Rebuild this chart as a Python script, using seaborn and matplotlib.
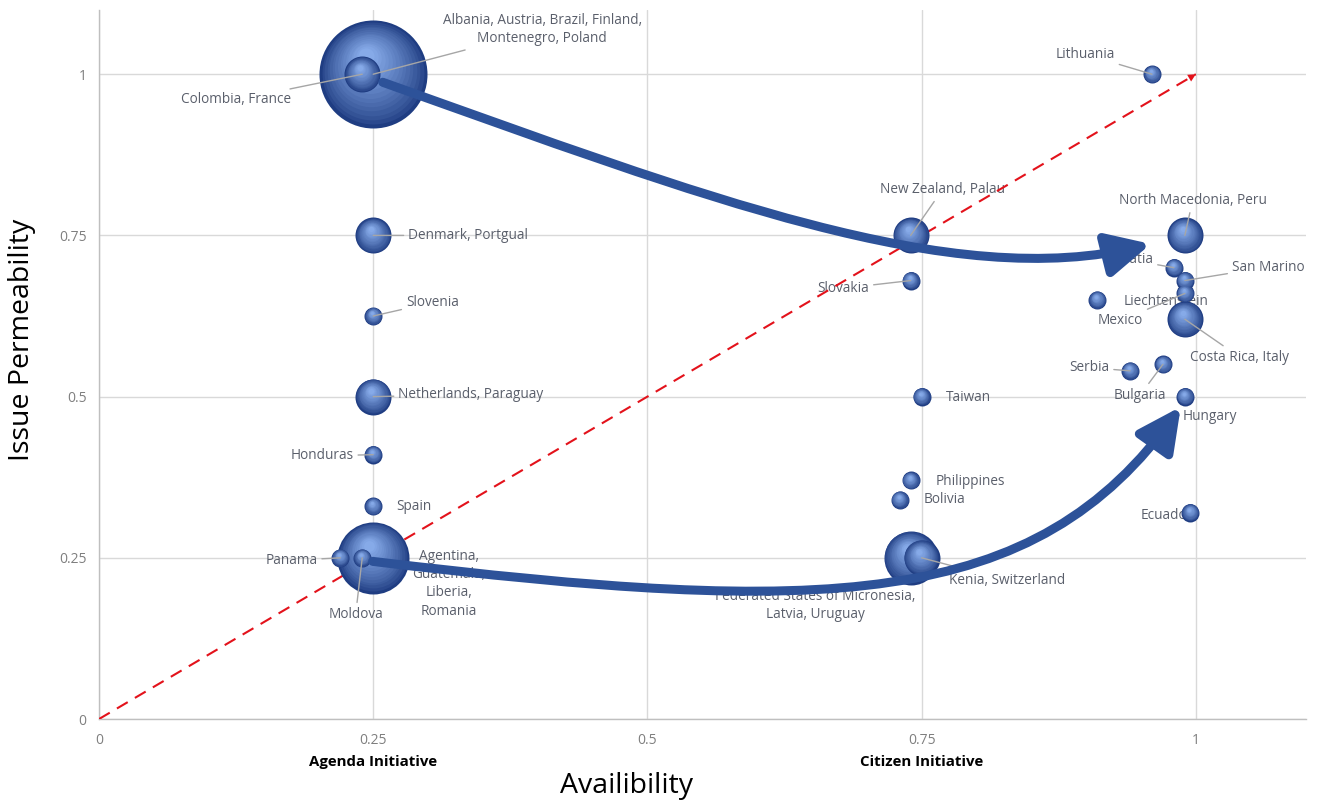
import numpy as np
import pandas as pd
import matplotlib
matplotlib.use("Agg")
import matplotlib.pyplot as plt
import matplotlib.colors as mcolors
import matplotlib.transforms as mtransforms
import seaborn as sns
from matplotlib.patches import FancyArrowPatch
from matplotlib.path import Path

# data: one bubble per group of countries
labels = [
    "Albania, Austria, Brazil, Finland,\nMontenegro, Poland", "Colombia, France", "Lithuania",
    "Denmark, Portgual", "Slovenia", "Netherlands, Paraguay", "Honduras", "Spain",
    "Agentina,\nGuatemala,\nLiberia,\nRomania", "Panama", "Moldova",
    "New Zealand, Palau", "Slovakia", "Taiwan", "Philippines", "Bolivia",
    "Federated States of Micronesia,\nLatvia, Uruguay", "Kenia, Switzerland",
    "North Macedonia, Peru", "Croatia", "San Marino", "Mexico", "Liechtenstein",
    "Costa Rica, Italy", "Serbia", "Bulgaria", "Hungary", "Ecuador",
]
availability = [0.25, 0.24, 0.96, 0.25, 0.25, 0.25, 0.25, 0.25, 0.25, 0.22, 0.24,
                0.74, 0.74, 0.75, 0.74, 0.73, 0.74, 0.75,
                0.99, 0.98, 0.99, 0.99, 0.91, 0.99, 0.94, 0.97, 0.99, 0.995]
permeability = [1.0, 1.0, 1.0, 0.75, 0.625, 0.5, 0.41, 0.33, 0.25, 0.25, 0.25,
                0.75, 0.68, 0.5, 0.37, 0.34, 0.25, 0.25,
                0.75, 0.70, 0.68, 0.66, 0.65, 0.62, 0.54, 0.55, 0.5, 0.32]
n_countries = [6, 2, 1, 2, 1, 2, 1, 1, 4, 1, 1, 2, 1, 1, 1, 1, 3, 2,
               2, 1, 1, 1, 1, 2, 1, 1, 1, 1]

x_ticks = [0, 0.25, 0.5, 0.75, 1]
x_tick_labels = ["0", "0.25", "0.5", "0.75", "1"]
y_ticks = [0, 0.25, 0.5, 0.75, 1]
y_tick_labels = ["0", "0.25", "0.5", "0.75", "1"]
type_ticks = [0.25, 0.75]
type_labels = ["Agenda Initiative", "Citizen Initiative"]

df = pd.DataFrame({"label": labels, "x": availability, "y": permeability, "n": n_countries})

# label placement: (text x, text y, alignment, leader line)
label_pos = {
    labels[0]: (0.404, 1.069, "center", True),
    "Colombia, France": (0.175, 0.96, "right", True),
    "Lithuania": (0.926, 1.031, "right", True),
    "Denmark, Portgual": (0.282, 0.75, "left", True),
    "Slovenia": (0.280, 0.646, "left", True),
    "Netherlands, Paraguay": (0.273, 0.503, "left", True),
    "Honduras": (0.232, 0.408, "right", True),
    "Spain": (0.271, 0.329, "left", False),
    labels[8]: (0.319, 0.21, "center", False),
    "Panama": (0.199, 0.246, "right", True),
    "Moldova": (0.234, 0.162, "center", True),
    "New Zealand, Palau": (0.769, 0.821, "center", True),
    "Slovakia": (0.702, 0.668, "right", True),
    "Taiwan": (0.772, 0.498, "left", False),
    "Philippines": (0.763, 0.369, "left", False),
    "Bolivia": (0.752, 0.34, "left", False),
    labels[16]: (0.653, 0.176, "center", False),
    "Kenia, Switzerland": (0.775, 0.215, "left", True),
    "North Macedonia, Peru": (0.997, 0.804, "center", True),
    "Croatia": (0.961, 0.712, "right", True),
    "San Marino": (1.033, 0.701, "left", True),
    "Mexico": (0.952, 0.618, "right", True),
    "Liechtenstein": (0.934, 0.648, "left", False),
    "Costa Rica, Italy": (0.995, 0.561, "left", True),
    "Serbia": (0.921, 0.545, "right", True),
    "Bulgaria": (0.949, 0.502, "center", True),
    "Hungary": (0.988, 0.469, "left", False),
    "Ecuador": (0.997, 0.316, "right", False),
}

sns.set_theme(style="whitegrid")
plt.rcParams["font.family"] = ["Open Sans", "DejaVu Sans"]

fig = plt.figure(figsize=(13.25, 8.1), dpi=100)
ax = fig.add_axes([0.0747, 0.1123, 0.9106, 0.8757])
ax.set_facecolor("white")

# diagonal reference line
ax.plot([0, 1], [0, 1], color="#E3121B", linewidth=1.5, dashes=(6, 4), zorder=3)
ax.annotate("", xy=(1, 1), xytext=(0.985, 0.985),
            arrowprops=dict(arrowstyle="-|>", color="#E3121B", lw=0, mutation_scale=14,
                            shrinkA=0, shrinkB=0), zorder=3)

# labels (under the bubbles) and leader lines
lab_size = 9.8
for _, row in df.iterrows():
    tx, ty, ha, leader = label_pos[row["label"]]
    ax.text(tx, ty, row["label"], ha=ha, va="center", fontsize=lab_size, color="#5A5F6B",
            linespacing=1.3, zorder=2, multialignment="center")
    if leader:
        ax.annotate(row["label"], xy=(row["x"], row["y"]), xytext=(tx, ty), ha=ha, va="center",
                    fontsize=lab_size, color="none", linespacing=1.3, zorder=6,
                    arrowprops=dict(arrowstyle="-", color="#A6A6A6", lw=1, shrinkA=1, shrinkB=0))

# shaded spheres: stacked discs drifting upwards, biggest groups drawn first
diam_pt = 12.96
dark = np.array(mcolors.to_rgb("#1F3D82"))
light = np.array(mcolors.to_rgb("#86AAE8"))
n_layers = 16
for n in sorted(df["n"].unique(), reverse=True):
    sub = df[df["n"] == n]
    radius = diam_pt * n / 2
    for i in range(n_layers):
        t = i / (n_layers - 1)
        scale = 1.0 - 0.85 * t
        col = dark + (light - dark) * (t ** 0.8)
        sns.scatterplot(data=sub, x="x", y="y", s=(diam_pt * n * scale) ** 2,
                        color=mcolors.to_hex(col), linewidth=0, ax=ax, zorder=4, legend=False)
        shift = mtransforms.offset_copy(ax.transData, fig=fig, x=-0.15 * radius * (1 - scale),
                                        y=0.4 * radius * (1 - scale), units="points")
        ax.collections[-1].set_offset_transform(shift)

# two curved arrows
arrow_col = "#2D5299"
paths = [
    [(0.2587, 0.9875), (0.5494, 0.8115), (0.7779, 0.6604), (0.9589, 0.7368)],
    [(0.2495, 0.2445), (0.6609, 0.1604), (0.8537, 0.1667), (0.9863, 0.4844)],
]
for verts in paths:
    p = Path(verts, [Path.MOVETO, Path.CURVE4, Path.CURVE4, Path.CURVE4])
    arr = FancyArrowPatch(path=p, arrowstyle="-|>,head_length=26,head_width=13",
                          color=arrow_col, lw=6.5, mutation_scale=1, zorder=7,
                          transform=ax.transData)
    ax.add_patch(arr)

# axes styling
ax.set_xlim(0, 1.1)
ax.set_ylim(0, 1.1)
ax.set_xticks(x_ticks)
ax.set_xticklabels(x_tick_labels)
ax.set_yticks(y_ticks)
ax.set_yticklabels(y_tick_labels)
ax.grid(True, color="#D9D9D9", linewidth=1)
ax.set_axisbelow(True)
ax.tick_params(axis="both", length=0, labelsize=10, labelcolor="#7F7F7F")
ax.tick_params(axis="x", pad=10)
ax.tick_params(axis="y", pad=9)
for side in ["top", "right"]:
    ax.spines[side].set_visible(False)
for side in ["left", "bottom"]:
    ax.spines[side].set_color("#BFBFBF")
    ax.spines[side].set_linewidth(1)

for tx, tl in zip(type_ticks, type_labels):
    ax.text(tx, -0.061, tl, transform=ax.get_xaxis_transform(), ha="center", va="center",
            fontsize=10.8, fontweight="bold", color="black")

ax.set_xlabel("Availibility", fontsize=20.5, color="black")
ax.set_ylabel("Issue Permeability", fontsize=20.5, color="black")
ax.xaxis.set_label_coords(0.437, -0.074)
ax.yaxis.set_label_coords(-0.052, 0.5345)

fig.savefig("out.png", dpi=100)
